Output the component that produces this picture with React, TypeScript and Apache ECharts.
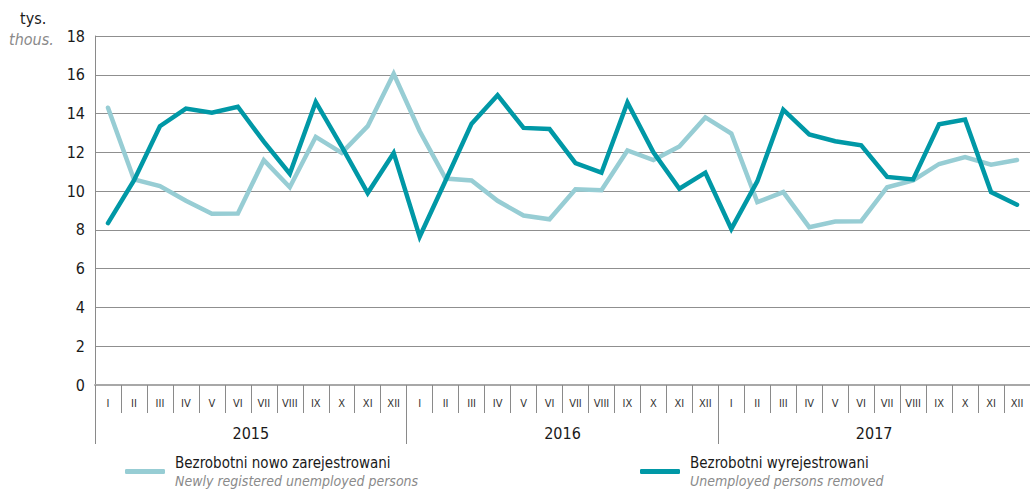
import React, { useEffect, useRef } from "react";
import * as echarts from "echarts";

const monthNames = ["I", "II", "III", "IV", "V", "VI", "VII", "VIII", "IX", "X", "XI", "XII"];
const years = ["2015", "2016", "2017"];
const months = [...monthNames, ...monthNames, ...monthNames];
const yTicks = [0, 2, 4, 6, 8, 10, 12, 14, 16, 18];

const newlyRegistered = [
  14.3, 10.6, 10.26, 9.5, 8.83, 8.85, 11.6, 10.2, 12.8, 11.97, 13.35, 16.05,
  13.1, 10.65, 10.55, 9.5, 8.74, 8.55, 10.1, 10.05, 12.1, 11.6, 12.3, 13.8,
  12.97, 9.43, 9.95, 8.14, 8.43, 8.45, 10.2, 10.55, 11.4, 11.75, 11.36, 11.6,
];
const removed = [
  8.35, 10.55, 13.35, 14.26, 14.04, 14.35, 12.55, 10.9, 14.6, 12.3, 9.9, 11.97,
  7.65, 10.55, 13.48, 14.95, 13.26, 13.2, 11.45, 10.95, 14.57, 12.0, 10.12, 10.95,
  8.05, 10.5, 14.2, 12.92, 12.57, 12.36, 10.73, 10.6, 13.45, 13.69, 9.95, 9.3,
];

const seriesNames = ["Bezrobotni nowo zarejestrowani", "Bezrobotni wyrejestrowani"];
const seriesNamesEn = ["Newly registered unemployed persons", "Unemployed persons removed"];

const FONT = "'DejaVu Sans Condensed', 'Liberation Sans Narrow', 'Roboto', sans-serif";
const LIGHT = "#97cdd4";
const DARK = "#0098a6";

export default function App() {
  const ref = useRef<HTMLDivElement | null>(null);
  useEffect(() => {
    const chart = echarts.init(ref.current as HTMLDivElement, null, { renderer: "svg" });
    const legendFor = (i: number, left: number) => ({
      show: true,
      left,
      top: 455,
      padding: 0,
      data: [seriesNames[i]],
      icon: "roundRect",
      itemWidth: 40,
      itemHeight: 5,
      itemGap: 10,
      formatter: (name: string) => `{a|${name}}\n{b|${seriesNamesEn[i]}}`,
      textStyle: {
        padding: [0, 0, 0, 5],
        rich: {
          a: { fontFamily: FONT, fontSize: 15, color: "#1a1a1a", lineHeight: 18 },
          b: { fontFamily: FONT, fontSize: 14, color: "#8a8a8a", fontStyle: "italic", lineHeight: 18 },
        },
      },
    });
    chart.setOption({
      animation: false,
      backgroundColor: "#ffffff",
      grid: { left: 95, right: 0, top: 36, bottom: 105, containLabel: false },
      legend: [legendFor(0, 125), legendFor(1, 640)],
      graphic: [
        {
          type: "text",
          left: 20,
          top: 10,
          style: { text: "tys.", font: `16px ${FONT}`, fill: "#1a1a1a" },
        },
        {
          type: "text",
          left: 9,
          top: 31,
          style: { text: "thous.", font: `italic 16px ${FONT}`, fill: "#8a8a8a" },
        },
      ],
      xAxis: [
        {
          type: "category",
          data: months,
          boundaryGap: true,
          axisLine: { show: true, lineStyle: { color: "#a8a8a8", width: 2 } },
          axisTick: { show: true, interval: 0, length: 28, lineStyle: { color: "#8a8a8a", width: 1 } },
          axisLabel: { interval: 0, margin: 13, fontFamily: FONT, fontSize: 11, color: "#333" },
          splitLine: { show: false },
        },
        {
          type: "category",
          data: years,
          position: "bottom",
          boundaryGap: true,
          axisLine: { show: false },
          axisTick: { show: true, interval: 0, length: 59, lineStyle: { color: "#8a8a8a", width: 1 } },
          axisLabel: { interval: 0, margin: 40, fontFamily: FONT, fontSize: 16, color: "#1a1a1a" },
          splitLine: { show: false },
        },
      ],
      yAxis: {
        type: "value",
        min: 0,
        max: 18,
        interval: 2,
        axisLine: { show: true, lineStyle: { color: "#8a8a8a", width: 1 } },
        axisTick: { show: false },
        axisLabel: {
          margin: 10,
          fontFamily: FONT,
          fontSize: 16,
          color: "#1a1a1a",
          formatter: (v: number) => (yTicks.includes(v) ? String(v) : ""),
        },
        splitLine: { show: true, lineStyle: { color: "#8f8f8f", width: 1.2 } },
      },
      series: [
        {
          name: seriesNames[0],
          type: "line",
          xAxisIndex: 0,
          data: newlyRegistered,
          showSymbol: false,
          symbol: "none",
          lineStyle: { color: LIGHT, width: 4.5, cap: "round", join: "miter" },
          itemStyle: { color: LIGHT },
        },
        {
          name: seriesNames[1],
          type: "line",
          xAxisIndex: 0,
          data: removed,
          showSymbol: false,
          symbol: "none",
          lineStyle: { color: DARK, width: 4.5, cap: "round", join: "miter" },
          itemStyle: { color: DARK },
        },
      ],
    });
    return () => chart.dispose();
  }, []);
  return (
    <div
      ref={ref}
      style={{ position: "absolute", left: 0, top: 0, width: 1030, height: 490 }}
    />
  );
}
